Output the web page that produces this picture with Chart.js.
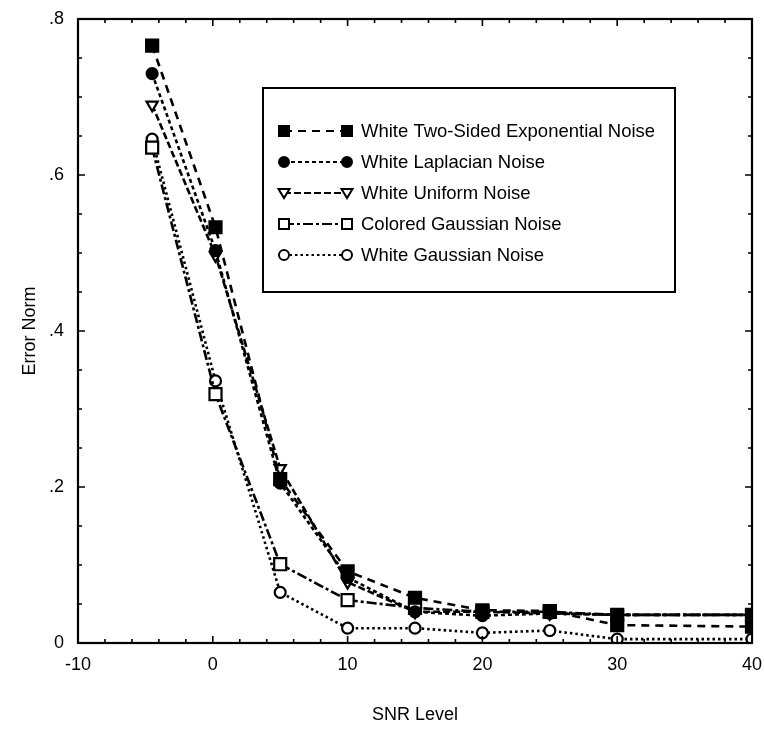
<!DOCTYPE html>
<html>
<head>
<meta charset="utf-8">
<script src="https://cdn.jsdelivr.net/npm/chart.js@4.4.1/dist/chart.umd.min.js"></script>
<style>
  html, body { margin: 0; padding: 0; background: #fff; }
  canvas { display: block; }
</style>
</head>
<body>
<canvas id="errorChart" width="764" height="736"></canvas>
<script>
// SNR levels (dB) where the error norm was measured
const snrLevels = [-4.5, 0.2, 5, 10, 15, 20, 25, 30, 40];

// error norm per noise type
const twoSidedExpNorm = [0.766, 0.533, 0.210, 0.092, 0.058, 0.042, 0.041, 0.023, 0.021];
const laplacianNorm   = [0.730, 0.503, 0.205, 0.084, 0.040, 0.035, 0.038, 0.036, 0.036];
const uniformNorm     = [0.690, 0.497, 0.224, 0.078, 0.040, 0.040, 0.038, 0.036, 0.036];
const coloredGaussNorm = [0.635, 0.319, 0.101, 0.055, 0.045, 0.040, 0.040, 0.036, 0.036];
const whiteGaussNorm  = [0.646, 0.336, 0.065, 0.019, 0.019, 0.013, 0.016, 0.005, 0.005];

const seriesLabels = [
    'White Two-Sided Exponential Noise',
    'White Laplacian Noise',
    'White Uniform Noise',
    'Colored Gaussian Noise',
    'White Gaussian Noise'
];

const yTicks = [0, 0.2, 0.4, 0.6, 0.8];
const xTicks = [-10, 0, 10, 20, 30, 40];

const FONT = '"Liberation Sans", Arial, Helvetica, sans-serif';

// marker + dash style for each series, in the same order as seriesLabels
const styles = [
    { shape: 'square',   filled: true,  dash: [8, 6] },
    { shape: 'circle',   filled: true,  dash: [4, 3] },
    { shape: 'triangle', filled: false, dash: [7, 3] },
    { shape: 'square',   filled: false, dash: [10, 3, 3, 3] },
    { shape: 'circle',   filled: false, dash: [2.5, 3] }
];

const seriesValues = [twoSidedExpNorm, laplacianNorm, uniformNorm, coloredGaussNorm, whiteGaussNorm];

function pointStyleFor(shape) {
    if (shape === 'square') return 'rect';
    if (shape === 'triangle') return 'triangle';
    return 'circle';
}

function radiusFor(shape) {
    if (shape === 'square') return 8.5;
    if (shape === 'triangle') return 6.5;
    return 5.5;
}

const datasets = seriesValues.map((vals, i) => {
    const s = styles[i];
    return {
        label: seriesLabels[i],
        data: vals.map((v, k) => ({ x: snrLevels[k], y: v })),
        borderColor: '#000',
        borderWidth: 2.6,
        borderDash: s.dash,
        tension: 0,
        pointStyle: pointStyleFor(s.shape),
        pointRotation: s.shape === 'triangle' ? 180 : 0,
        pointRadius: radiusFor(s.shape),
        pointBorderWidth: 2.2,
        pointBorderColor: '#000',
        pointBackgroundColor: s.filled ? '#000' : '#fff'
    };
});

function drawMarker(ctx, shape, filled, x, y) {
    ctx.save();
    ctx.setLineDash([]);
    ctx.lineWidth = 2;
    ctx.strokeStyle = '#000';
    ctx.fillStyle = filled ? '#000' : '#fff';
    ctx.beginPath();
    if (shape === 'square') {
        ctx.rect(x - 5, y - 5, 10, 10);
    } else if (shape === 'triangle') {
        ctx.moveTo(x - 5.5, y - 4);
        ctx.lineTo(x + 5.5, y - 4);
        ctx.lineTo(x, y + 5);
        ctx.closePath();
    } else {
        ctx.arc(x, y, 5, 0, Math.PI * 2);
    }
    ctx.fill();
    ctx.stroke();
    ctx.restore();
}

// box frame with inward ticks on all sides, plus the boxed legend
const frameAndLegend = {
    id: 'frameAndLegend',
    afterDatasetsDraw(chart) {
        const { ctx, chartArea: a, scales: { x, y } } = chart;
        ctx.save();
        ctx.strokeStyle = '#000';
        ctx.lineWidth = 2.2;
        ctx.strokeRect(a.left, a.top, a.right - a.left, a.bottom - a.top);

        ctx.lineWidth = 1.6;
        ctx.beginPath();
        for (let v = -10; v <= 40; v += 2) {
            const px = x.getPixelForValue(v);
            const len = v % 10 === 0 ? 7 : 4;
            ctx.moveTo(px, a.bottom); ctx.lineTo(px, a.bottom - len);
            ctx.moveTo(px, a.top); ctx.lineTo(px, a.top + len);
        }
        for (let i = 0; i <= 16; i++) {
            const py = y.getPixelForValue(i * 0.05);
            const len = i % 4 === 0 ? 7 : 4;
            ctx.moveTo(a.left, py); ctx.lineTo(a.left + len, py);
            ctx.moveTo(a.right, py); ctx.lineTo(a.right - len, py);
        }
        ctx.stroke();

        // legend box
        const box = { left: 263, top: 88, right: 675, bottom: 292 };
        ctx.fillStyle = '#fff';
        ctx.fillRect(box.left, box.top, box.right - box.left, box.bottom - box.top);
        ctx.lineWidth = 2;
        ctx.strokeRect(box.left, box.top, box.right - box.left, box.bottom - box.top);

        ctx.font = '18.5px ' + FONT;
        ctx.textBaseline = 'middle';
        ctx.textAlign = 'left';
        seriesLabels.forEach((label, i) => {
            const rowY = 131 + i * 31;
            const s = styles[i];
            ctx.save();
            ctx.lineWidth = 2.2;
            ctx.setLineDash(s.dash);
            ctx.beginPath();
            ctx.moveTo(284, rowY);
            ctx.lineTo(347, rowY);
            ctx.stroke();
            ctx.restore();
            drawMarker(ctx, s.shape, s.filled, 284, rowY);
            drawMarker(ctx, s.shape, s.filled, 347, rowY);
            ctx.fillStyle = '#000';
            ctx.fillText(label, 361, rowY + 1);
        });
        ctx.restore();
    }
};

new Chart(document.getElementById('errorChart'), {
    type: 'line',
    data: { datasets },
    options: {
        responsive: false,
        animation: false,
        layout: { padding: { top: 19, right: 12, left: 0, bottom: 0 } },
        plugins: {
            legend: { display: false },
            tooltip: { enabled: false }
        },
        scales: {
            x: {
                type: 'linear',
                min: -10,
                max: 40,
                afterBuildTicks: (scale) => { scale.ticks = xTicks.map(v => ({ value: v })); },
                afterFit: (scale) => {
                    scale.height = 93;
                    scale.paddingLeft = 0;
                    scale.paddingRight = 0;
                },
                grid: { display: false, drawTicks: false },
                border: { display: false },
                ticks: {
                    color: '#000',
                    padding: 11,
                    maxRotation: 0,
                    font: { family: FONT, size: 18 },
                    callback: (v) => String(v)
                },
                title: {
                    display: true,
                    text: 'SNR Level',
                    color: '#000',
                    font: { family: FONT, size: 18 },
                    padding: { top: 0, bottom: 10 }
                }
            },
            y: {
                min: 0,
                max: 0.8,
                afterBuildTicks: (scale) => { scale.ticks = yTicks.map(v => ({ value: v })); },
                afterFit: (scale) => {
                    scale.width = 78;
                    scale.paddingTop = 0;
                    scale.paddingBottom = 0;
                },
                grid: { display: false, drawTicks: false },
                border: { display: false },
                ticks: {
                    color: '#000',
                    padding: 14,
                    font: { family: FONT, size: 18 },
                    callback: (v) => v === 0 ? '0' : String(+v.toFixed(1)).replace(/^0\./, '.')
                },
                title: {
                    display: true,
                    text: 'Error Norm',
                    color: '#000',
                    font: { family: FONT, size: 18 },
                    padding: { top: 19, bottom: 0 }
                }
            }
        }
    },
    plugins: [frameAndLegend]
});
</script>
</body>
</html>
